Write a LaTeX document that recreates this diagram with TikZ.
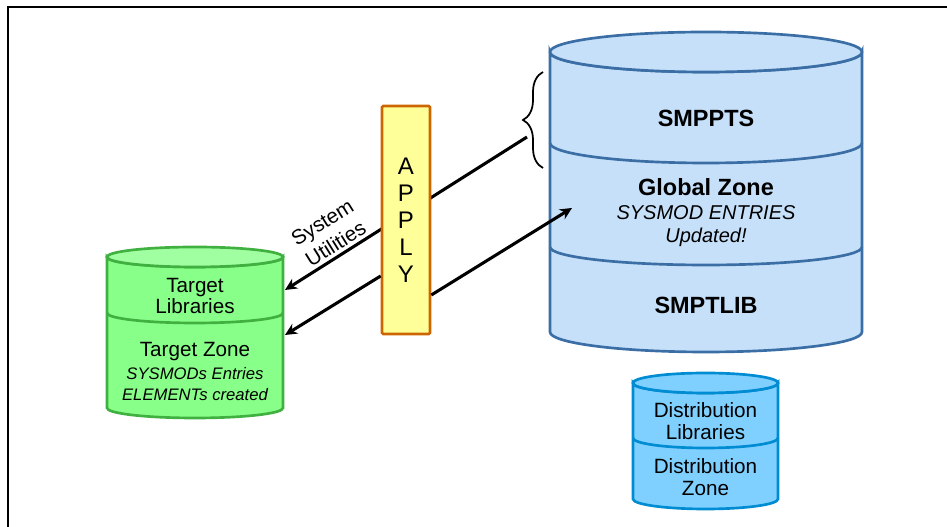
\documentclass[tikz,border=0pt]{standalone}
\usepackage{fontspec}
\setmainfont{Liberation Sans}
\usetikzlibrary{arrows.meta, decorations.pathreplacing}

\definecolor{smpfill}{RGB}{198,224,250}
\definecolor{smpline}{RGB}{58,110,165}
\definecolor{tgtfill}{RGB}{136,255,136}
\definecolor{tgttop}{RGB}{160,255,160}
\definecolor{tgtline}{RGB}{64,176,64}
\definecolor{dlbfill}{RGB}{128,208,255}
\definecolor{dlbline}{RGB}{0,140,210}
\definecolor{applyfill}{RGB}{255,255,153}
\definecolor{applyline}{RGB}{204,102,0}

\tikzset{
  smpdb/.style={draw=smpline, fill=smpfill, line width=2pt},
  tgtdb/.style={draw=tgtline, fill=tgtfill, line width=2pt},
  dlbdb/.style={draw=dlbline, fill=dlbfill, line width=2pt},
  applybox/.style={draw=applyline, fill=applyfill, line width=2pt, rounded corners=1pt,
    minimum width=36pt, minimum height=171pt, align=center,
    font=\fontsize{18}{20.3}\selectfont},
  zonebold/.style={font=\fontsize{17.6}{21}\selectfont\bfseries},
  zoneit/.style={font=\fontsize{15}{18}\selectfont\itshape},
  lbl/.style={font=\fontsize{15.5}{16.5}\selectfont, align=center},
  smallit/.style={font=\fontsize{12.5}{15}\selectfont\itshape},
  arr/.style={line width=2.3pt, -{Stealth[length=9pt, width=8.5pt]}},
}

\begin{document}
\begin{tikzpicture}[x=0.75pt, y=0.75pt]
    \useasboundingbox (0,0) rectangle (947,527);
    \draw[line width=1pt] (8,-5) -- (8,520) -- (955,520);

    % SMPPTS / Global Zone / SMPTLIB
    \filldraw[smpdb] (550,475) -- (550,195) arc[start angle=180, end angle=360, x radius=156, y radius=20]
        -- (862,475) arc[start angle=0, end angle=-180, x radius=156, y radius=20] -- cycle;
    \filldraw[smpdb] (706,475) ellipse[x radius=156, y radius=20];
    \draw[smpdb, fill=none] (550,384) arc[start angle=180, end angle=360, x radius=156, y radius=20];
    \draw[smpdb, fill=none] (550,280) arc[start angle=180, end angle=360, x radius=156, y radius=18];
    \node[zonebold] (smppts) at (706,409) {SMPPTS};
    \node[zonebold] (glzone) at (706,340) {Global Zone};
    \node[zoneit] (glent) at (706,314) {SYSMOD ENTRIES};
    \node[zoneit] (glupd) at (706,290) {Updated!};
    \node[zonebold] (smptlib) at (706,222) {SMPTLIB};

    % target libraries / zone
    \filldraw[tgtdb] (107,270) -- (107,119) arc[start angle=180, end angle=360, x radius=88, y radius=10]
        -- (283,270) arc[start angle=0, end angle=-180, x radius=88, y radius=10] -- cycle;
    \filldraw[tgtdb, fill=tgttop] (195,270) ellipse[x radius=88, y radius=10];
    \draw[tgtdb, fill=none] (107,214) arc[start angle=180, end angle=360, x radius=88, y radius=10];
    \node[lbl] (tgtlib) at (195,231) {Target\\Libraries};
    \node[lbl] (tgtzone) at (195,175) {Target Zone};
    \node[smallit] (tgtent) at (195,153) {SYSMODs Entries};
    \node[smallit] (tgtelem) at (195,132) {ELEMENTs created};

    % distribution libraries / zone
    \filldraw[dlbdb] (633,144) -- (633,28) arc[start angle=180, end angle=360, x radius=72.5, y radius=10]
        -- (778,144) arc[start angle=0, end angle=-180, x radius=72.5, y radius=10] -- cycle;
    \filldraw[dlbdb] (705.5,144) ellipse[x radius=72.5, y radius=10];
    \draw[dlbdb, fill=none] (633,89) arc[start angle=180, end angle=360, x radius=72.5, y radius=10];
    \node[lbl] (dlblib) at (705.5,106) {Distribution\\Libraries};
    \node[lbl] (dlbzone) at (705.5,49.5) {Distribution\\Zone};

    % brace on SMPPTS
    \draw[decorate, decoration={brace, amplitude=15pt}, line width=1.3pt] (543,359) -- (543,455);

    \coordinate (pts) at (527,390);
    \coordinate (tlib) at (285,237);
    \coordinate (tzone) at (285,192);
    \coordinate (glz) at (572,319);

    % system utilities (behind APPLY)
    \draw[arr] (pts) -- (tlib);
    \node[lbl, rotate=32, font=\fontsize{15.5}{19}\selectfont] (sysut) at (329,294) {System\\Utilities};

    \node[applybox] (apply) at (406,307) {A\\P\\P\\L\\Y};
    \draw[arr] ([yshift=-56.25pt]apply.east) -- (glz);
    \draw[arr] ([yshift=-42pt]apply.west) -- (tzone);
\end{tikzpicture}
\end{document}
